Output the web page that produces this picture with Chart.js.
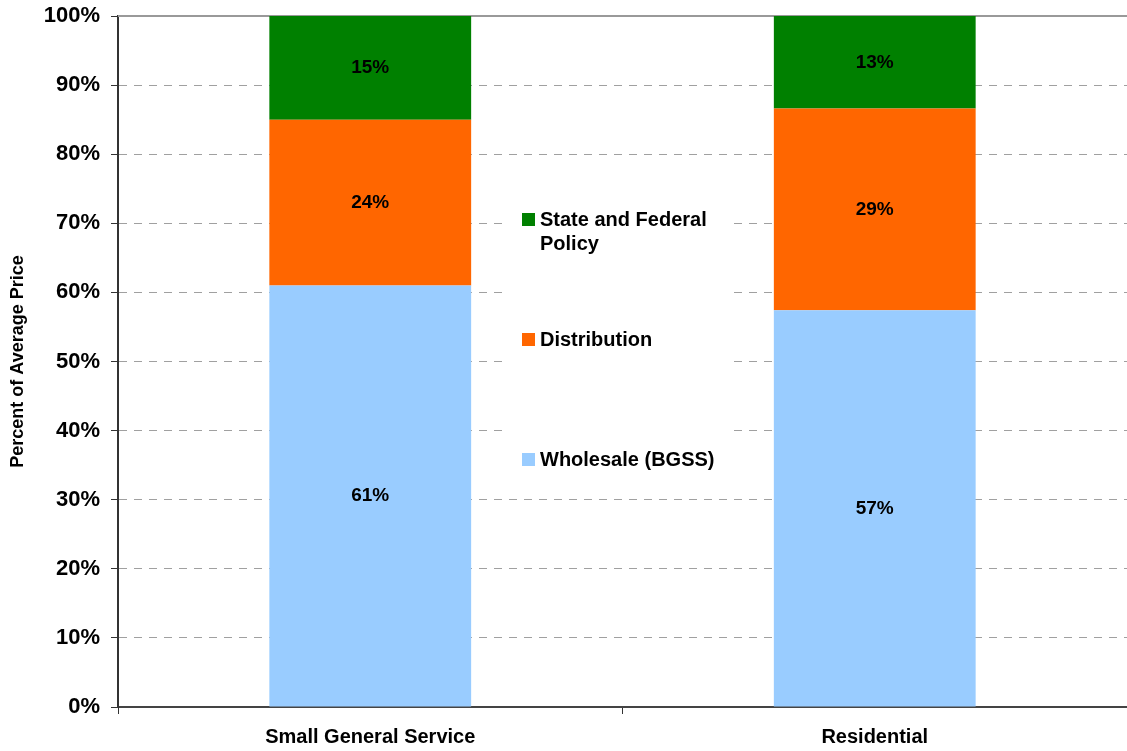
<!DOCTYPE html>
<html>
<head>
<meta charset="utf-8">
<title>Average Price Breakdown</title>
<script src="https://cdn.jsdelivr.net/npm/chart.js@4.4.1/dist/chart.umd.min.js"></script>
<style>
  html, body { margin: 0; padding: 0; background: #fff; }
  #wrap { width: 1127px; height: 751px; position: relative; }
</style>
</head>
<body>
<div id="wrap"><canvas id="myChart"></canvas></div>
<script>
const FONT = '"Liberation Sans", Arial, Helvetica, sans-serif';

const categories = ['Small General Service', 'Residential'];
const wholesale = [61, 57.4];
const distribution = [24, 29.2];
const policy = [15, 13.4];
const seriesNames = ['Wholesale (BGSS)', 'Distribution', 'State and Federal Policy'];
const seriesColors = ['#99CCFF', '#FF6600', '#008000'];
const yTitle = 'Percent of Average Price';

// white legend box sitting between the two columns
const legendBox = {
  id: 'legendBox',
  afterDatasetsDraw(chart) {
    const ctx = chart.ctx;
    const area = chart.chartArea;
    const x0 = area.left + 385;
    const top = area.top + 204;
    ctx.save();
    ctx.fillStyle = '#fff';
    ctx.fillRect(x0, top - 22, 230, 290);
    ctx.font = 'bold 20px ' + FONT;
    ctx.textBaseline = 'middle';
    ctx.textAlign = 'left';
    const sets = chart.data.datasets.slice().reverse();
    sets.forEach((ds, i) => {
      const y = top + i * 120;
      ctx.fillStyle = ds.backgroundColor;
      ctx.fillRect(x0 + 19, y - 7, 13, 13);
      ctx.fillStyle = '#000';
      // word wrap
      const words = ds.label.split(' ');
      let line = '';
      let ly = y;
      words.forEach(w => {
        const test = line ? line + ' ' + w : w;
        if (ctx.measureText(test).width > 185 && line) {
          ctx.fillText(line, x0 + 37, ly);
          line = w;
          ly += 24;
        } else {
          line = test;
        }
      });
      ctx.fillText(line, x0 + 37, ly);
    });
    ctx.restore();
  }
};

// percentage labels in the middle of each segment
const segLabels = {
  id: 'segLabels',
  afterDatasetsDraw(chart) {
    const ctx = chart.ctx;
    ctx.save();
    ctx.font = 'bold 19px ' + FONT;
    ctx.fillStyle = '#000';
    ctx.textAlign = 'center';
    ctx.textBaseline = 'middle';
    chart.data.datasets.forEach((ds, i) => {
      chart.getDatasetMeta(i).data.forEach((bar, j) => {
        const y = (bar.y + bar.base) / 2;
        ctx.fillText(Math.round(ds.data[j]) + '%', bar.x, y);
      });
    });
    ctx.restore();
  }
};

// solid line along the top of the plot
const topLine = {
  id: 'topLine',
  beforeDatasetsDraw(chart) {
    const ctx = chart.ctx;
    const a = chart.chartArea;
    ctx.save();
    ctx.strokeStyle = '#999';
    ctx.lineWidth = 2;
    ctx.beginPath();
    ctx.moveTo(a.left, a.top);
    ctx.lineTo(a.right, a.top);
    ctx.stroke();
    ctx.restore();
  }
};

const ctx = document.getElementById('myChart');

const myChart = new Chart(ctx, {
  type: 'bar',
  data: {
    labels: categories,
    datasets: [
      { label: seriesNames[0], data: wholesale, backgroundColor: seriesColors[0] },
      { label: seriesNames[1], data: distribution, backgroundColor: seriesColors[1] },
      { label: seriesNames[2], data: policy, backgroundColor: seriesColors[2] }
    ]
  },
  options: {
    responsive: true,
    maintainAspectRatio: false,
    animation: false,
    layout: { padding: { top: 16, right: 0, left: 0, bottom: 0 } },
    datasets: {
      bar: { categoryPercentage: 1, barPercentage: 0.4, borderWidth: 0 }
    },
    plugins: {
      legend: { display: false },
      tooltip: { enabled: false }
    },
    scales: {
      x: {
        stacked: true,
        afterFit(scale) {
          scale.height = 44;
          scale.paddingLeft = 0;
          scale.paddingRight = 0;
        },
        grid: {
          drawOnChartArea: false,
          offset: true,
          tickLength: 7,
          tickColor: '#333',
          tickWidth: 1
        },
        border: { color: '#444', width: 2 },
        ticks: {
          padding: 11,
          color: '#000',
          font: { family: FONT, size: 20, weight: 'bold' }
        }
      },
      y: {
        stacked: true,
        min: 0,
        max: 100,
        afterFit(scale) {
          scale.width = 118;
          scale.paddingTop = 0;
          scale.paddingBottom = 0;
        },
        grid: {
          color: c => (c.tick && (c.tick.value === 0 || c.tick.value === 100)) ? 'rgba(0,0,0,0)' : '#a0a0a0',
          lineWidth: 1,
          tickLength: 7,
          tickColor: '#333',
          tickWidth: 1
        },
        border: { color: '#333', width: 2, dash: [8, 7] },
        ticks: {
          stepSize: 10,
          padding: 11,
          color: '#000',
          font: { family: FONT, size: 22, weight: 'bold' },
          callback: v => v + '%'
        },
        title: {
          display: true,
          text: yTitle,
          color: '#000',
          font: { family: FONT, size: 18, weight: 'bold' },
          padding: { top: 7, bottom: 0 }
        }
      }
    }
  },
  plugins: [topLine, segLabels, legendBox]
});
</script>
</body>
</html>
